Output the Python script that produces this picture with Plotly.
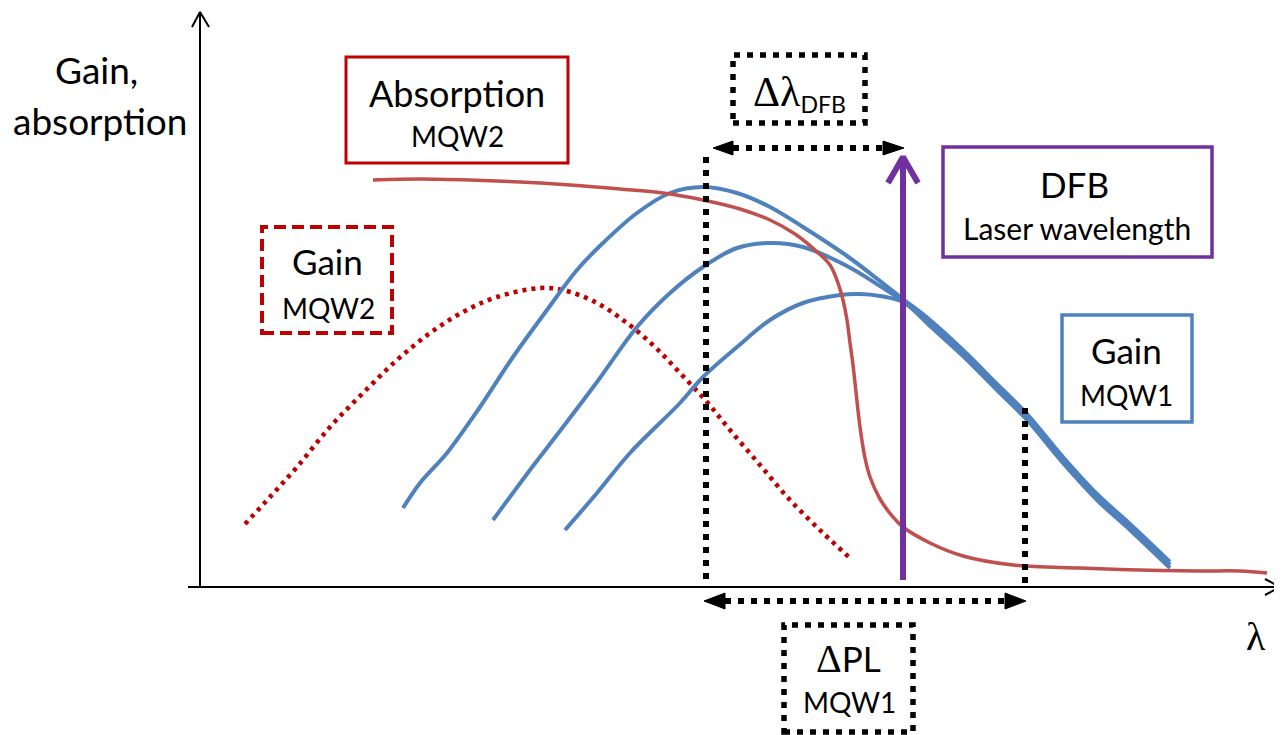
import plotly.graph_objects as go

# ---------------- data (wavelength units, gain/absorption units) ----------------
absorption_mqw2_lam = [173, 220, 270, 320, 370, 420, 463, 503, 540, 570, 595, 615, 630, 638, 643, 647,
                       650, 653, 656, 660, 665, 670, 680, 693, 703, 730, 763, 813, 880, 940, 1000, 1040, 1067]
absorption_mqw2_val = [407, 408, 407, 405, 402, 398, 394, 387, 378, 367, 353, 337, 322, 304, 287, 267,
                       244, 222, 195, 160, 129, 110, 88, 70, 60, 44, 31, 22, 19, 17, 16, 16, 14]

gain_mqw2_lam = [45, 70, 97, 130, 163, 197, 230, 263, 297, 340, 363, 397, 427, 455, 480, 507, 530, 560, 590, 623, 650]
gain_mqw2_val = [63, 90, 120, 160, 194, 227, 254, 275, 290, 299, 297, 284, 264, 240, 214, 185, 157, 122, 87, 54, 29]

gain_mqw1_a_lam = [203, 220, 247, 280, 313, 347, 377, 403, 437, 470, 503, 537, 570, 603, 647, 680, 703,
                   730, 763, 797, 827, 863, 897, 930, 970]
gain_mqw1_a_val = [79, 104, 134, 180, 230, 277, 317, 344, 374, 394, 400, 394, 380, 360, 331, 306, 288,
                   267, 237, 203, 173, 130, 93, 63, 25]

gain_mqw1_b_lam = [293, 330, 363, 397, 437, 470, 503, 537, 570, 603, 647, 680, 703,
                   730, 763, 797, 827, 863, 897, 930, 970]
gain_mqw1_b_val = [67, 117, 160, 205, 260, 294, 320, 339, 344, 340, 321, 301, 286,
                   264, 234, 200, 170, 127, 90, 60, 22]

gain_mqw1_c_lam = [365, 397, 430, 480, 503, 537, 570, 603, 640, 660, 680, 703,
                   730, 763, 797, 827, 863, 897, 930, 970]
gain_mqw1_c_val = [57, 94, 134, 184, 210, 240, 267, 284, 292, 293, 291, 285,
                   261, 231, 197, 167, 124, 87, 57, 19]

dfb_wavelength = 703              # DFB laser line
dfb_line_top = 430
delta_lambda_dfb = [513, 704]     # Δλ_DFB span
delta_pl = [504, 826]             # ΔPL span (MQW1)
pl_marker_left = [506, 430]       # dotted marker: x, top
pl_marker_right = [825, 179]

# ---------------- styles ----------------
RED = "#C00000"
ABS = "#C0504D"
BLUE = "#4F81BD"
PURPLE = "#7030A0"
FONT = "Lato"
DOT = "6px,7px"

fig = go.Figure()

def line(xs, ys, color, width, dash="solid", shape="linear"):
    fig.add_trace(go.Scatter(x=xs, y=ys, mode="lines",
                             line=dict(color=color, width=width, dash=dash, shape=shape),
                             hoverinfo="skip", showlegend=False))

def tri(xs, ys, color):
    fig.add_trace(go.Scatter(x=xs, y=ys, mode="lines", fill="toself", fillcolor=color,
                             line=dict(color=color, width=1), hoverinfo="skip", showlegend=False))

# axes with open arrow heads
line([-12, 1080], [0, 0], "black", 2)
line([1065, 1080, 1065], [8, 0, -8], "black", 2)
line([0, 0], [-1, 575], "black", 2)
line([-8, 0, 9], [560, 575, 560], "black", 2)

# curves
line(gain_mqw2_lam, gain_mqw2_val, RED, 4.5, dash="4px,5px", shape="spline")
line(gain_mqw1_a_lam, gain_mqw1_a_val, BLUE, 4, shape="spline")
line(gain_mqw1_b_lam, gain_mqw1_b_val, BLUE, 4, shape="spline")
line(gain_mqw1_c_lam, gain_mqw1_c_val, BLUE, 4, shape="spline")
line(absorption_mqw2_lam, absorption_mqw2_val, ABS, 3.5, shape="spline")

# dotted PL markers
line([pl_marker_left[0]] * 2, [pl_marker_left[1], 7], "black", 6, dash=DOT)
line([pl_marker_right[0]] * 2, [pl_marker_right[1], 3], "black", 6, dash=DOT)

# Δλ_DFB double arrow
y1 = 439
line([delta_lambda_dfb[0] + 20, delta_lambda_dfb[1] - 21], [y1, y1], "black", 6, dash=DOT)
tri([delta_lambda_dfb[0], delta_lambda_dfb[0] + 20, delta_lambda_dfb[0] + 20, delta_lambda_dfb[0]],
    [y1, y1 + 7, y1 - 7, y1], "black")
tri([delta_lambda_dfb[1], delta_lambda_dfb[1] - 21, delta_lambda_dfb[1] - 21, delta_lambda_dfb[1]],
    [y1, y1 + 7, y1 - 7, y1], "black")

# ΔPL double arrow
y2 = -14
line([delta_pl[0] + 21, delta_pl[1] - 21], [y2, y2], "black", 6, dash=DOT)
tri([delta_pl[0], delta_pl[0] + 21, delta_pl[0] + 21, delta_pl[0]], [y2, y2 + 8, y2 - 8, y2], "black")
tri([delta_pl[1], delta_pl[1] - 21, delta_pl[1] - 21, delta_pl[1]], [y2, y2 + 8, y2 - 8, y2], "black")

# DFB laser line
line([dfb_wavelength, dfb_wavelength], [7, dfb_line_top - 2], PURPLE, 6)
line([dfb_wavelength - 15, dfb_wavelength, dfb_wavelength + 15],
     [dfb_line_top - 26, dfb_line_top, dfb_line_top - 26], PURPLE, 6)

# boxes
boxes = [
    (146, 368, 424, 530, RED, 3, "solid"),
    (62, 192, 254, 360, RED, 4, "12px,6px"),
    (533, 665, 464, 532, "black", 5.5, DOT),
    (743, 1012, 330, 440, PURPLE, 3.5, "solid"),
    (862, 992, 165, 272, BLUE, 3.5, "solid"),
    (584, 713, -145, -38, "black", 5.5, DOT),
]
for x0, x1, y0, y1_, c, w, d in boxes:
    fig.add_shape(type="rect", x0=x0, x1=x1, y0=y0, y1=y1_, xref="x", yref="y",
                  line=dict(color=c, width=w, dash=d), fillcolor="rgba(0,0,0,0)", layer="above")

SERIF = "Liberation Serif"
texts = [
    ("Gain,", -104, 518, 37, FONT),
    ("absorption", -100, 467, 37, FONT),
    ("Absorption", 257, 494, 36, FONT),
    ("MQW2", 257, 451, 28, FONT),
    ("Gain", 127, 326, 35, FONT),
    ("MQW2", 128, 279, 28, FONT),
    ('<span style="font-family:Liberation Serif;font-size:42px">Δλ</span><sub>DFB</sub>', 599, 494, 33, FONT),
    ("DFB", 874, 403, 35, FONT),
    ("Laser wavelength", 877, 359, 30, FONT),
    ("Gain", 926, 237, 35, FONT),
    ("MQW1", 926, 192, 28, FONT),
    ('<span style="font-family:Liberation Serif;font-size:40px">Δ</span>PL', 648, -71, 35, FONT),
    ("MQW1", 649, -115, 28, FONT),
    ("λ", 1056, -49, 40, SERIF),
]
for t, x, y, s, f in texts:
    fig.add_annotation(x=x, y=y, xref="x", yref="y", text=t, showarrow=False,
                       font=dict(family=f, size=s, color="black"),
                       xanchor="center", yanchor="middle")

# page body has an 8px margin: figure spans page pixels 8..1282 / 8..735
fig.update_layout(
    width=1274, height=727,
    margin=dict(l=0, r=0, t=0, b=0),
    paper_bgcolor="white", plot_bgcolor="white",
    xaxis=dict(range=[-192, 1082], visible=False, fixedrange=True),
    yaxis=dict(range=[-148, 579], visible=False, fixedrange=True),
    showlegend=False,
)
fig.write_html("out.html")
